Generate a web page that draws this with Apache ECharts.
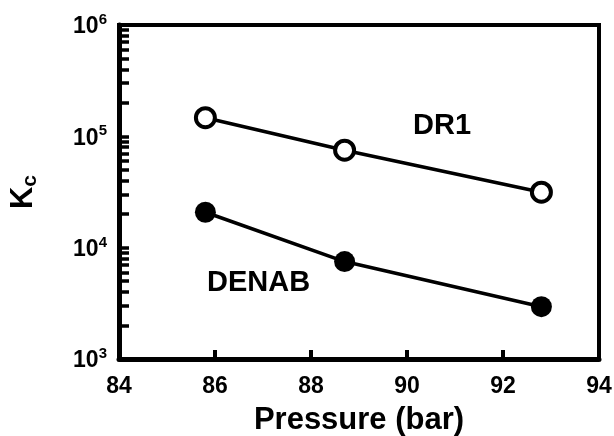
<!DOCTYPE html>
<html><head><meta charset="utf-8">
<script src="https://cdn.jsdelivr.net/npm/echarts@6/dist/echarts.min.js"></script>
<style>html,body{margin:0;padding:0;background:#fff}#c{width:614px;height:436px}</style>
</head><body><div id="c"></div>
<script>
const pressure = [85.8, 88.7, 92.8];
const dr1 = [147000, 75000, 31500];
const denab = [20800, 7500, 2950];
const xMin = 84, xMax = 94, xStep = 2;
const yMin = 1000, yMax = 1000000;
const seriesNames = ['DR1', 'DENAB'];

const FONT = 'Liberation Sans, Arial, sans-serif';
const chart = echarts.init(document.getElementById('c'), null, {renderer: 'canvas'});
const pair = (xs, ys) => xs.map((x, i) => [x, ys[i]]);

chart.setOption({
  animation: false,
  backgroundColor: '#fff',
  grid: {left: 119, right: 15, top: 25, bottom: 77, show: true, borderColor: '#000', borderWidth: 4,
    containLabel: false, outerBoundsMode: 'none'},
  xAxis: {
    type: 'value', min: xMin, max: xMax, interval: xStep,
    name: 'Pressure (bar)', nameLocation: 'middle', nameGap: 46,
    nameTextStyle: {fontFamily: FONT, fontWeight: 'bold', fontSize: 31, color: '#000'},
    axisLine: {show: true, lineStyle: {color: '#000', width: 5}},
    axisTick: {show: true, inside: true, length: 9, lineStyle: {color: '#000', width: 4}},
    axisLabel: {fontFamily: FONT, fontWeight: 'bold', fontSize: 23, color: '#000', margin: 16},
    splitLine: {show: false}
  },
  yAxis: {
    type: 'log', logBase: 10, min: yMin, max: yMax,
    name: 'K{sub|c}', nameLocation: 'middle', nameGap: 78, nameRotate: 90,
    nameTextStyle: {fontFamily: FONT, fontWeight: 'bold', fontSize: 31, color: '#000',
      rich: {sub: {fontFamily: FONT, fontWeight: 'bold', fontSize: 21, color: '#000', padding: [14, 0, 0, 0]}}},
    axisLine: {show: true, lineStyle: {color: '#000', width: 5}},
    axisTick: {show: true, inside: true, length: 10, lineStyle: {color: '#000', width: 3.5}},
    minorTick: {show: true, splitNumber: 9, length: 10, lineStyle: {color: '#000', width: 3.5}},
    axisLabel: {
      margin: 12,
      formatter: v => '{b|10}{s|' + Math.round(Math.log10(v)) + '}',
      rich: {
        b: {fontFamily: FONT, fontWeight: 'bold', fontSize: 23, color: '#000', padding: [4, 0, 0, 0]},
        s: {fontFamily: FONT, fontWeight: 'bold', fontSize: 15, color: '#000', padding: [0, 0, 10, 0]}
      }
    },
    splitLine: {show: false}, minorSplitLine: {show: false}
  },
  series: [
    {name: seriesNames[0], type: 'line', data: pair(pressure, dr1), symbol: 'circle', symbolSize: 19,
      lineStyle: {color: '#000', width: 3.5}, itemStyle: {color: '#fff', borderColor: '#000', borderWidth: 4}, z: 3},
    {name: seriesNames[1], type: 'line', data: pair(pressure, denab), symbol: 'circle', symbolSize: 21,
      lineStyle: {color: '#000', width: 3.5}, itemStyle: {color: '#000', borderColor: '#000', borderWidth: 0}, z: 3}
  ],
  graphic: [
    {type: 'text', left: 413, top: 111, style: {text: seriesNames[0], fontFamily: FONT, fontWeight: 'bold', fontSize: 29, fill: '#000'}},
    {type: 'text', left: 207, top: 268, style: {text: seriesNames[1], fontFamily: FONT, fontWeight: 'bold', fontSize: 29, fill: '#000'}}
  ]
});
</script></body></html>
